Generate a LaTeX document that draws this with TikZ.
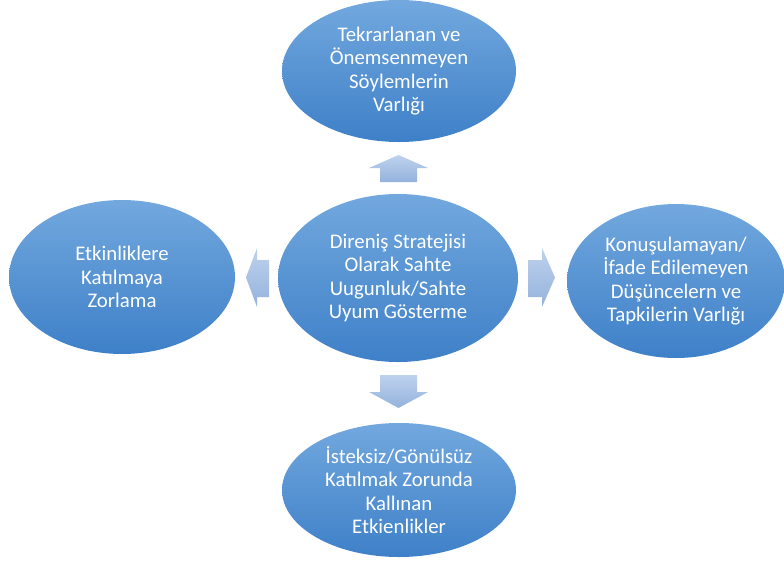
\documentclass[tikz,border=0pt]{standalone}
\usepackage{fontspec}
\setmainfont{Carlito}
\usetikzlibrary{shapes.geometric}
\definecolor{ovalTop}{RGB}{114,168,222}
\definecolor{ovalBottom}{RGB}{62,128,200}
\definecolor{arrowTop}{RGB}{190,210,238}
\definecolor{arrowBottom}{RGB}{148,178,220}
\begin{document}
\begin{tikzpicture}[x=1pt,y=-1pt,
        oval/.style={ellipse, inner sep=0pt, top color=ovalTop, bottom color=ovalBottom,
            text=white, align=center, font=\fontsize{20.8}{23.5}\selectfont},
        blockArrow/.style={top color=arrowTop, bottom color=arrowBottom},
    ]
    \useasboundingbox (0,0) rectangle (784,560);

    \node[oval, minimum width=240pt, minimum height=168pt] at (398,278) (strategy)
        {Direniş Stratejisi\\Olarak Sahte\\Uugunluk/Sahte\\Uyum Gösterme};
    \node[oval, minimum width=234pt, minimum height=142pt] at (399,71) (repeated)
        {Tekrarlanan ve\\Önemsenmeyen\\Söylemlerin\\Varlığı};
    \node[oval, minimum width=226pt, minimum height=154pt] at (122,277) (forcing)
        {Etkinliklere\\Katılmaya\\Zorlama};
    \node[oval, minimum width=218pt, minimum height=154pt] at (676,281) (unspoken)
        {Konuşulamayan/\\İfade Edilemeyen\\Düşüncelern ve\\Tapkilerin Varlığı};
    \node[oval, minimum width=234pt, minimum height=134pt] at (399,490) (reluctant)
        {İsteksiz/Gönülsüz\\Katılmak Zorunda\\Kallınan\\Etkienlikler};

    % block arrows out of the centre
    \path[blockArrow] (380,182) -- (380,168) -- (369,168) -- (398.5,155) -- (428,168)
        -- (417,168) -- (417,182) -- cycle;
    \path[blockArrow] (380,375) -- (380,392) -- (369,392) -- (398.5,408) -- (428,392)
        -- (417,392) -- (417,375) -- cycle;
    \path[blockArrow] (269,260) -- (257,260) -- (257,248) -- (246,277.5) -- (257,307)
        -- (257,297) -- (269,297) -- cycle;
    \path[blockArrow] (528,260) -- (542,260) -- (542,248) -- (555,277.5) -- (542,307)
        -- (542,297) -- (528,297) -- cycle;
\end{tikzpicture}
\end{document}
